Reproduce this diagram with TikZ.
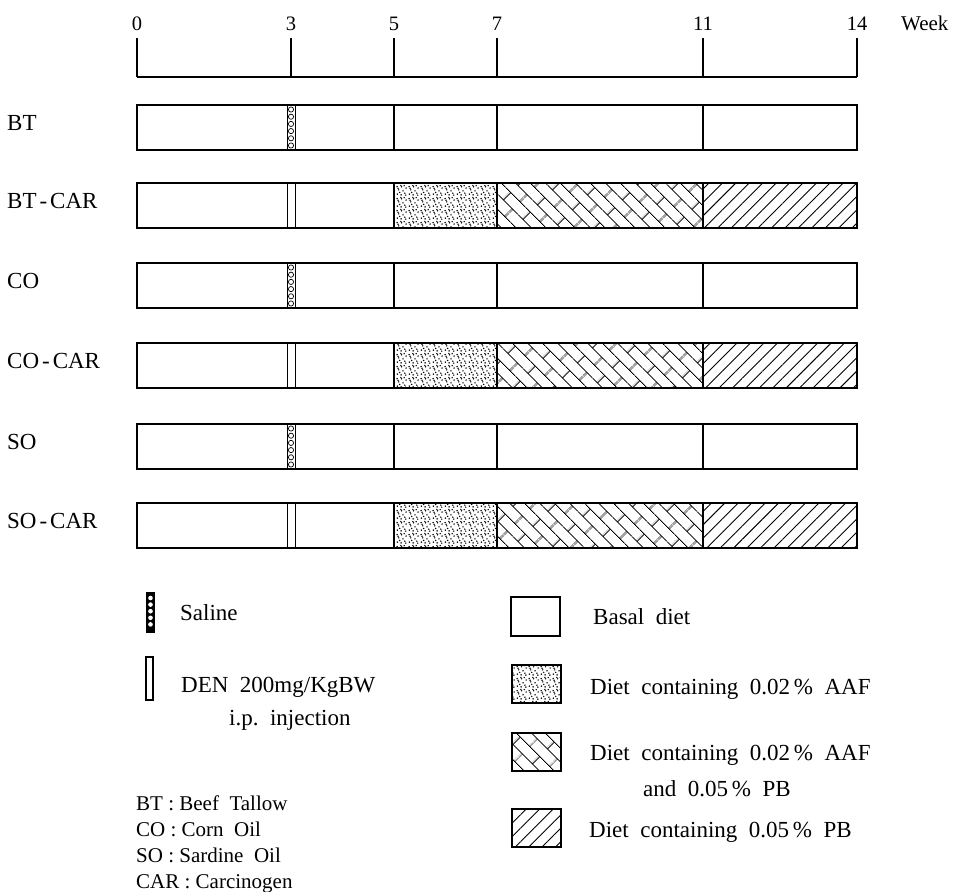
\documentclass[tikz,border=0pt]{standalone}
\usepackage{fontspec}
\setmainfont{Liberation Serif}
\usetikzlibrary{patterns, patterns.meta}

\tikzdeclarepattern{
    name=stipple,
    type=uncolored,
    bottom left={(0pt,0pt)},
    top right={(12pt,12pt)},
    tile size={(12pt,12pt)},
    code={
        \foreach \px/\py in {1.5/2, 5.5/1.2, 9.5/3, 3/6.5, 7.5/5.5, 10.8/8.5, 1.2/10, 6/9.8, 8.8/11, 4/3.8, 10.5/0.9, 2.2/8.2, 5.2/11.2}
            \fill (\px pt,\py pt) circle (0.85pt);
    }
}

\tikzdeclarepattern{
    name=diagbrick,
    type=uncolored,
    bottom left={(0pt,0pt)},
    top right={(28pt,21pt)},
    tile size={(28pt,21pt)},
    tile transformation={rotate=-45},
    code={
        \draw[line width=1pt] (0pt,5pt) -- (28pt,5pt) (0pt,15.5pt) -- (28pt,15.5pt)
            (6pt,5pt) -- (6pt,15.5pt) (20pt,15.5pt) -- (20pt,21pt) (20pt,0pt) -- (20pt,5pt);
    }
}

\begin{document}
\begin{tikzpicture}[
    x=1pt, y=-1pt,
    font=\fontsize{23}{28}\selectfont,
    lbl/.style={anchor=base west, inner sep=0pt},
    abbr/.style={anchor=base west, inner sep=0pt, font=\fontsize{21}{24}\selectfont},
    twoline/.style={anchor=base west, inner sep=0pt, align=left},
    tick/.style={anchor=base, inner sep=0pt, font=\fontsize{20.5}{24}\selectfont},
    bar/.style={draw, line width=1.4pt},
    axisline/.style={line width=1.4pt},
    keybox/.style={draw, line width=1.4pt},
    pblines/.style={pattern={Lines[angle=45, distance=9.5pt, line width=0.9pt]}}
]
\useasboundingbox (0,0) rectangle (954,892);

% time axis
\draw[axisline] (137,77) -- (857,77);
\foreach \w/\xx in {0/137, 3/291, 5/394, 7/497, 11/703, 14/857} {
    \draw[axisline] (\xx,77) -- (\xx,38);
    \node[tick] (t\w) at (\xx,30) {\w};
}
\node[lbl, font=\fontsize{21}{24}\selectfont] (week) at (901,30) {Week};

% one bar per group
\foreach \name/\ytop/\car [count=\i] in {BT/105/0, BT\kern3pt-\kern3pt CAR/183/1, CO/263/0, CO\kern3pt-\kern3pt CAR/343/1, SO/424/0, SO\kern3pt-\kern3pt CAR/503/1} {
    \pgfmathsetmacro{\ybot}{\ytop+45}
    \node[lbl] (g\i) at (7,\ytop+25) {\name};
    \ifnum\car=1
        \fill[pattern=stipple] (394,\ytop) rectangle (497,\ybot);
        \fill[pattern=diagbrick] (497,\ytop) rectangle (703,\ybot);
        \fill[pblines] (703,\ytop) rectangle (857,\ybot);
        \draw[line width=1pt] (287,\ytop) -- (287,\ybot) (295,\ytop) -- (295,\ybot);
    \else
        \draw[line width=1pt] (287,\ytop) -- (287,\ybot) (295,\ytop) -- (295,\ybot);
        \foreach \k in {0,...,5}
            \draw[line width=0.7pt] (291,\ytop+4.5+7.2*\k) circle (2.6pt);
    \fi
    \draw[bar] (137,\ytop) rectangle (857,\ybot);
    \foreach \xx in {394,497,703}
        \draw[bar] (\xx,\ytop) -- (\xx,\ybot);
}

% injections
\fill (146,592) rectangle (155,633);
\foreach \k in {0,...,4}
    \fill[white] (150.5,598+6.6*\k) circle (2.3pt);
\node[lbl] (saline) at (180,620) {Saline};

\draw[line width=1.2pt] (146,657) rectangle (153,700);
\node[twoline, font=\fontsize{23}{33}\selectfont] (den) at (181,725) {DEN\ \ 200mg/KgBW\\\hspace{48pt}i.p.\ \ injection};

% abbreviations
\node[abbr] (bt) at (136,810) {BT : Beef\ \ Tallow};
\node[abbr] (co) at (136,836) {CO : Corn\ \ Oil};
\node[abbr] (so) at (136,862) {SO : Sardine\ \ Oil};
\node[abbr] (car) at (136,888) {CAR : Carcinogen};

% diets
\draw[keybox] (511,597) rectangle (560,636);
\node[lbl] (basal) at (593,624) {Basal\ \ diet};

\fill[pattern=stipple] (512,665) rectangle (561,703);
\draw[keybox] (512,665) rectangle (561,703);
\node[lbl] (aaf) at (590,694) {Diet\ \ containing\ \ 0.02\,\%\ \ AAF};

\fill[pattern=diagbrick] (512,733) rectangle (561,771);
\draw[keybox] (512,733) rectangle (561,771);
\node[twoline, font=\fontsize{23}{36}\selectfont] (aafpb) at (590,796) {Diet\ \ containing\ \ 0.02\,\%\ \ AAF\\\hspace{53pt}and\ \ 0.05\,\%\ \ PB};

\fill[pblines] (512,809) rectangle (561,847);
\draw[keybox] (512,809) rectangle (561,847);
\node[lbl] (pb) at (589,837) {Diet\ \ containing\ \ 0.05\,\%\ \ PB};

\end{tikzpicture}
\end{document}
